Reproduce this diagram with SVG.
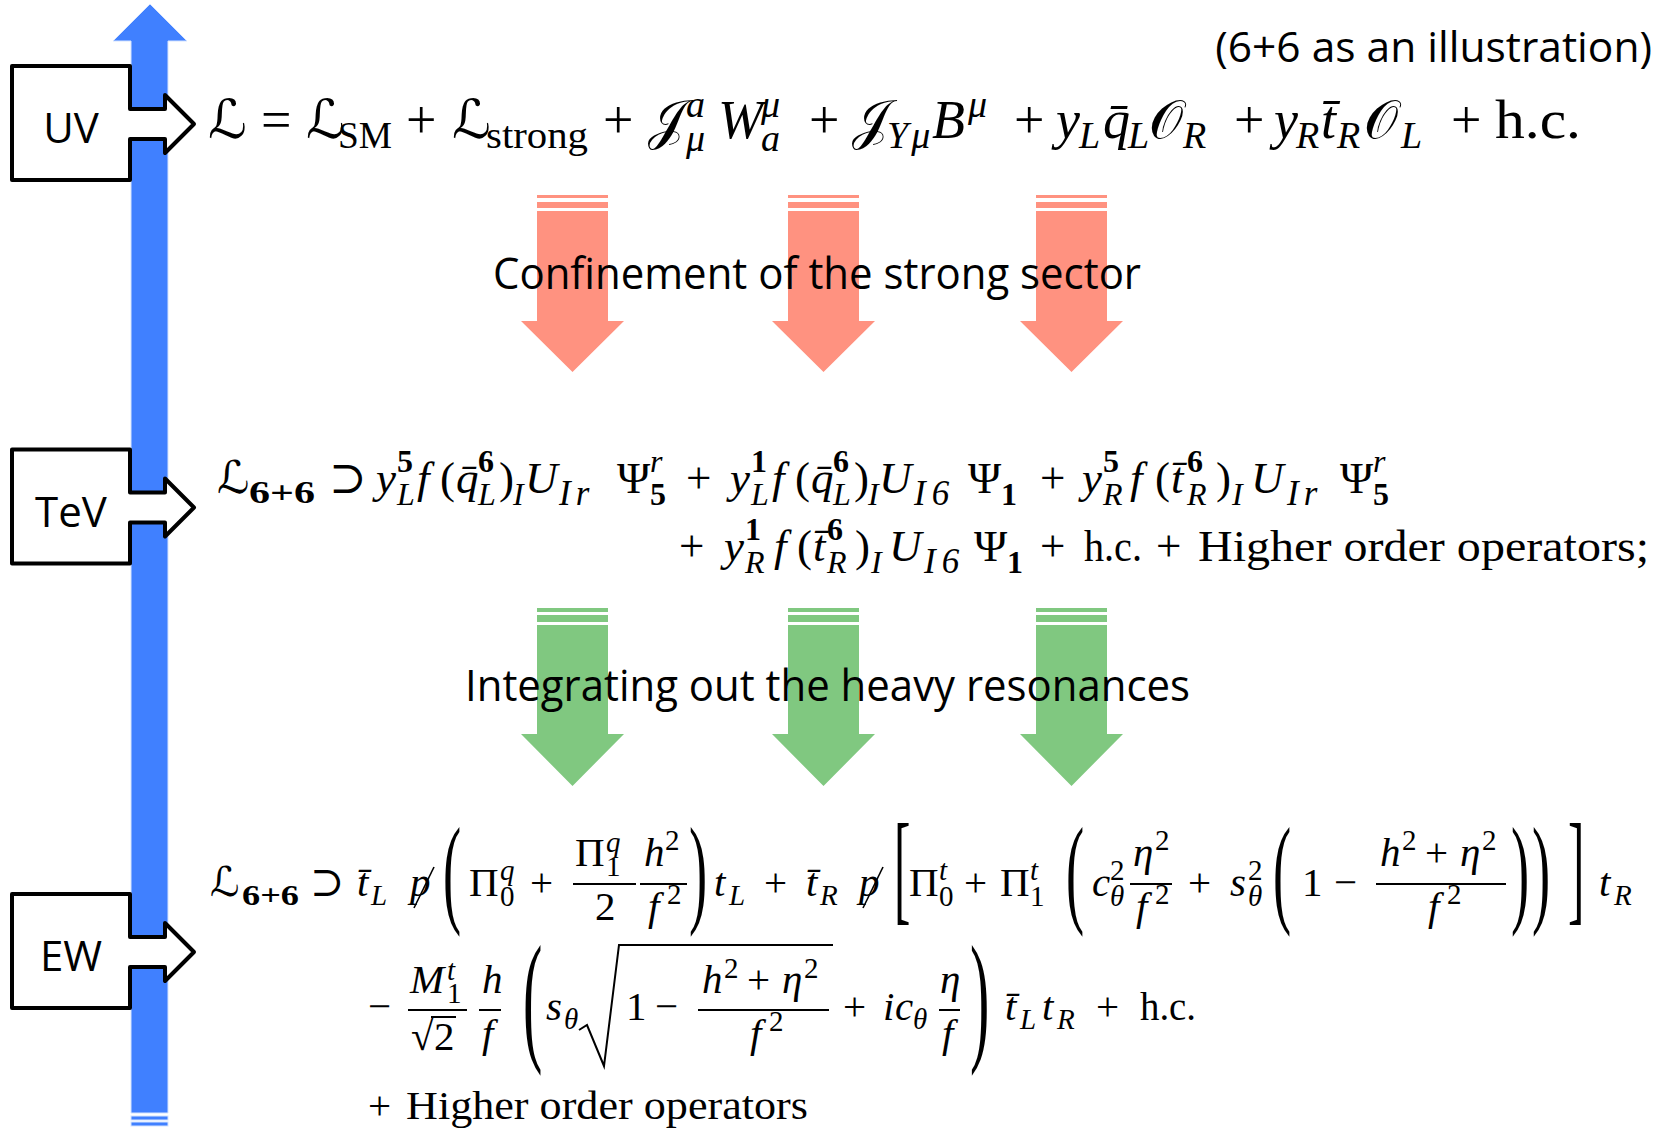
<svg xmlns="http://www.w3.org/2000/svg" width="1663" height="1130" viewBox="0 0 1663 1130">
<style>
.m{font-family:"Liberation Serif","DejaVu Serif",serif;font-style:italic}
.u{font-family:"Liberation Serif","DejaVu Serif",serif}
.b{font-family:"Liberation Serif","DejaVu Serif",serif;font-weight:bold}
.c{font-family:"DejaVu Serif","DejaVu Sans",serif}
.s{font-family:"Open Sans","Noto Sans",sans-serif}
.box{fill:#fff;stroke:#000;stroke-width:4;stroke-linejoin:round}
.blue{fill:#4080ff;stroke:#d4e3ff;stroke-width:1}
.red{fill:#ff9280}
.grn{fill:#80c880}
.ln{stroke:#000;stroke-width:2;fill:none}
.sl{stroke:#000;stroke-width:1.6;fill:none}
</style>
<defs>
<path id="boxshape" d="M12,66 H130 V109 H165 V95 L194,124 L165,153 V139 H130 V180 H12 Z"/>
</defs>
<g id="scale-axis">
<path class="blue" d="M131,1113 V41 H113 L150,4 L187,41 H168 V1113 Z"/>
<rect class="blue" x="131" y="1116" width="37" height="4"/>
<rect class="blue" x="131" y="1122" width="37" height="4"/>
</g>
<g id="connectors">
<g id="confine-arrows" class="red">
<rect x="537" y="195" width="71" height="3"/><rect x="537" y="202" width="71" height="6"/>
<path d="M537,211 H608 V321 H624 L572.5,372 L521,321 H537 Z"/>
<rect x="788" y="195" width="71" height="3"/><rect x="788" y="202" width="71" height="6"/>
<path d="M788,211 H859 V321 H875 L823.5,372 L772,321 H788 Z"/>
<rect x="1036" y="195" width="71" height="3"/><rect x="1036" y="202" width="71" height="6"/>
<path d="M1036,211 H1107 V321 H1123 L1071.5,372 L1020,321 H1036 Z"/>
</g>
<g id="integrate-arrows" class="grn">
<rect x="537" y="608" width="71" height="4"/><rect x="537" y="615" width="71" height="7"/>
<path d="M537,625 H608 V734 H624 L572.5,786 L521,734 H537 Z"/>
<rect x="788" y="608" width="71" height="4"/><rect x="788" y="615" width="71" height="7"/>
<path d="M788,625 H859 V734 H875 L823.5,786 L772,734 H788 Z"/>
<rect x="1036" y="608" width="71" height="4"/><rect x="1036" y="615" width="71" height="7"/>
<path d="M1036,625 H1107 V734 H1123 L1071.5,786 L1020,734 H1036 Z"/>
</g>
</g>
<g id="uv">
<use href="#boxshape" class="box"/>
<text class="s" x="71" y="143" font-size="42" text-anchor="middle">UV</text>
</g>
<g id="tev" transform="translate(0,383.5)">
<use href="#boxshape" class="box"/>
<text class="s" x="71" y="143" font-size="42" text-anchor="middle">TeV</text>
</g>
<g id="ew" transform="translate(0,828)">
<use href="#boxshape" class="box"/>
<text class="s" x="71" y="143" font-size="42" text-anchor="middle">EW</text>
</g>
<text id="note" class="s" x="1652" y="62" font-size="42.5" text-anchor="end">(6+6 as an illustration)</text>
<text id="confine-label" class="s" x="493" y="289" font-size="44" textLength="648" lengthAdjust="spacingAndGlyphs">Confinement of the strong sector</text>
<text id="integrate-label" class="s" x="465" y="701" font-size="44" textLength="725" lengthAdjust="spacingAndGlyphs">Integrating out the heavy resonances</text>

<g id="eq-uv" font-size="54">
<text class="c" x="208" y="138">ℒ</text>
<text class="u" x="261" y="138">=</text>
<text class="c" x="306" y="138">ℒ</text>
<text class="u" x="338" y="148" font-size="38" textLength="54" lengthAdjust="spacingAndGlyphs">SM</text>
<text class="u" x="406" y="138">+</text>
<text class="c" x="452" y="138">ℒ</text>
<text class="u" x="486" y="148" font-size="38" textLength="102" lengthAdjust="spacingAndGlyphs">strong</text>
<text class="u" x="603" y="138">+</text>
<text class="c" x="648" y="138">𝒥</text>
<text class="m" x="686" y="117" font-size="38">a</text>
<text class="m" x="686" y="151" font-size="38">μ</text>
<text class="m" x="718" y="138">W</text>
<text class="m" x="761" y="117" font-size="38">μ</text>
<text class="m" x="761" y="151" font-size="38">a</text>
<text class="u" x="809" y="138">+</text>
<text class="c" x="852" y="138">𝒥</text>
<text class="m" x="887" y="148" font-size="38" letter-spacing="3">Yμ</text>
<text class="m" x="932" y="138">B</text>
<text class="m" x="968" y="117" font-size="38">μ</text>
<text class="u" x="1014" y="138">+</text>
<text class="m" x="1056" y="138">y</text>
<text class="m" x="1079" y="148" font-size="38">L</text>
<text class="m" x="1103" y="138">q̄</text>
<text class="m" x="1128" y="148" font-size="38">L</text>
<text class="c" x="1149" y="138">𝒪</text>
<text class="m" x="1183" y="148" font-size="38">R</text>
<text class="u" x="1234" y="138">+</text>
<text class="m" x="1274" y="138">y</text>
<text class="m" x="1296" y="148" font-size="38">R</text>
<text class="m" x="1321" y="138">t̄</text>
<text class="m" x="1337" y="148" font-size="38">R</text>
<text class="c" x="1364" y="138">𝒪</text>
<text class="m" x="1401" y="148" font-size="38">L</text>
<text class="u" x="1451" y="138">+</text>
<text class="u" x="1495" y="138" textLength="86" lengthAdjust="spacingAndGlyphs">h.c.</text>
</g>

<g id="eq-tev" font-size="45">
<text class="c" x="217" y="493">ℒ</text>
<text class="b" x="249" y="503" font-size="32" textLength="66" lengthAdjust="spacingAndGlyphs">6+6</text>
<text class="u" x="329" y="493">⊃</text>
<text class="m" x="376" y="493">y</text>
<text class="b" x="397" y="472" font-size="32">5</text>
<text class="m" x="397" y="505" font-size="32">L</text>
<text class="m" x="417" y="493">f</text>
<text class="u" x="440" y="493">(</text>
<text class="m" x="456" y="493">q̄</text>
<text class="b" x="478" y="472" font-size="32">6</text>
<text class="m" x="478" y="505" font-size="32">L</text>
<text class="u" x="499" y="493">)</text>
<text class="m" x="513" y="505" font-size="32">I</text>
<text class="m" x="525" y="493">U</text>
<text class="m" x="559" y="505" font-size="35" letter-spacing="5">Ir</text>
<text class="u" x="617" y="493">Ψ</text>
<text class="m" x="650" y="472" font-size="32">r</text>
<text class="b" x="650" y="505" font-size="32">5</text>
<text class="u" x="686" y="493">+</text>
<text class="m" x="730" y="493">y</text>
<text class="b" x="751" y="472" font-size="32">1</text>
<text class="m" x="751" y="505" font-size="32">L</text>
<text class="m" x="772" y="493">f</text>
<text class="u" x="795" y="493">(</text>
<text class="m" x="811" y="493">q̄</text>
<text class="b" x="833" y="472" font-size="32">6</text>
<text class="m" x="833" y="505" font-size="32">L</text>
<text class="u" x="854" y="493">)</text>
<text class="m" x="868" y="505" font-size="32">I</text>
<text class="m" x="879" y="493">U</text>
<text class="m" x="914" y="505" font-size="35" letter-spacing="6">I6</text>
<text class="u" x="968" y="493">Ψ</text>
<text class="b" x="1001" y="505" font-size="32">1</text>
<text class="u" x="1040" y="493">+</text>
<text class="m" x="1082" y="493">y</text>
<text class="b" x="1103" y="472" font-size="32">5</text>
<text class="m" x="1103" y="505" font-size="32">R</text>
<text class="m" x="1130" y="493">f</text>
<text class="u" x="1155" y="493">(</text>
<text class="m" x="1171" y="493">t̄</text>
<text class="b" x="1187" y="472" font-size="32">6</text>
<text class="m" x="1187" y="505" font-size="32">R</text>
<text class="u" x="1216" y="493">)</text>
<text class="m" x="1232" y="505" font-size="32">I</text>
<text class="m" x="1251" y="493">U</text>
<text class="m" x="1287" y="505" font-size="35" letter-spacing="5">Ir</text>
<text class="u" x="1340" y="493">Ψ</text>
<text class="m" x="1373" y="472" font-size="32">r</text>
<text class="b" x="1373" y="505" font-size="32">5</text>

<text class="u" x="679" y="561">+</text>
<text class="m" x="724" y="561">y</text>
<text class="b" x="745" y="540" font-size="32">1</text>
<text class="m" x="745" y="573" font-size="32">R</text>
<text class="m" x="774" y="561">f</text>
<text class="u" x="797" y="561">(</text>
<text class="m" x="813" y="561">t̄</text>
<text class="b" x="827" y="540" font-size="32">6</text>
<text class="m" x="827" y="573" font-size="32">R</text>
<text class="u" x="855" y="561">)</text>
<text class="m" x="871" y="573" font-size="32">I</text>
<text class="m" x="889" y="561">U</text>
<text class="m" x="924" y="573" font-size="35" letter-spacing="6">I6</text>
<text class="u" x="974" y="561">Ψ</text>
<text class="b" x="1007" y="573" font-size="32">1</text>
<text class="u" x="1040" y="561">+</text>
<text class="u" x="1084" y="561" textLength="58" lengthAdjust="spacingAndGlyphs">h.c.</text>
<text class="u" x="1156" y="561">+</text>
<text class="u" x="1198" y="561" textLength="451" lengthAdjust="spacingAndGlyphs">Higher order operators;</text>
</g>

<g id="eq-ew" font-size="41">
<text class="c" x="210" y="896">ℒ</text>
<text class="b" x="242" y="905" font-size="29" textLength="57" lengthAdjust="spacingAndGlyphs">6+6</text>
<text class="u" x="310" y="896">⊃</text>
<text class="m" x="357" y="896">t̄</text>
<text class="m" x="371" y="905" font-size="29">L</text>
<text class="m" x="410" y="896">p</text>
<path class="sl" d="M434,867 L414,908"/>
<text class="u" transform="translate(443,911) scale(0.45,1)" font-size="121">(</text>
<text class="u" x="469" y="896">Π</text>
<text class="m" x="500" y="880" font-size="29">q</text>
<text class="u" x="500" y="906" font-size="29">0</text>
<text class="u" x="530" y="896">+</text>
<text class="u" x="575" y="866">Π</text>
<text class="m" x="606" y="852" font-size="29">q</text>
<text class="u" x="606" y="876" font-size="29">1</text>
<path class="ln" d="M573,884 H636"/>
<text class="u" x="595" y="920">2</text>
<text class="m" x="644" y="866">h</text>
<text class="u" x="665" y="850" font-size="29">2</text>
<path class="ln" d="M640,884 H687"/>
<text class="m" x="648" y="920">f</text>
<text class="u" x="667" y="904" font-size="29">2</text>
<text class="u" transform="translate(689,911) scale(0.45,1)" font-size="121">)</text>
<text class="m" x="714" y="896">t</text>
<text class="m" x="729" y="905" font-size="29">L</text>
<text class="u" x="764" y="896">+</text>
<text class="m" x="806" y="896">t̄</text>
<text class="m" x="820" y="905" font-size="29">R</text>
<text class="m" x="859" y="896">p</text>
<path class="sl" d="M883,867 L863,908"/>
<text class="u" transform="translate(894,909) scale(0.4,1)" font-size="123">[</text>
<text class="u" x="909" y="896">Π</text>
<text class="m" x="939" y="880" font-size="29">t</text>
<text class="u" x="939" y="906" font-size="29">0</text>
<text class="u" x="964" y="896">+</text>
<text class="u" x="1000" y="896">Π</text>
<text class="m" x="1030" y="880" font-size="29">t</text>
<text class="u" x="1030" y="906" font-size="29">1</text>
<text class="u" transform="translate(1066,911) scale(0.45,1)" font-size="121">(</text>
<text class="m" x="1092" y="896">c</text>
<text class="u" x="1110" y="880" font-size="29">2</text>
<text class="m" x="1110" y="906" font-size="29">θ</text>
<text class="m" x="1133" y="866">η</text>
<text class="u" x="1155" y="850" font-size="29">2</text>
<path class="ln" d="M1130,884 H1172"/>
<text class="m" x="1136" y="920">f</text>
<text class="u" x="1155" y="904" font-size="29">2</text>
<text class="u" x="1188" y="896">+</text>
<text class="m" x="1230" y="896">s</text>
<text class="u" x="1248" y="880" font-size="29">2</text>
<text class="m" x="1248" y="906" font-size="29">θ</text>
<text class="u" transform="translate(1273,911) scale(0.45,1)" font-size="121">(</text>
<text class="u" x="1302" y="896">1</text>
<text class="u" x="1334" y="896">−</text>
<text class="m" x="1380" y="866">h</text>
<text class="u" x="1402" y="850" font-size="29">2</text>
<text class="u" x="1425" y="866">+</text>
<text class="m" x="1460" y="866">η</text>
<text class="u" x="1482" y="850" font-size="29">2</text>
<path class="ln" d="M1376,884 H1506"/>
<text class="m" x="1428" y="920">f</text>
<text class="u" x="1447" y="904" font-size="29">2</text>
<text class="u" transform="translate(1511,911) scale(0.45,1)" font-size="121">)</text>
<text class="u" transform="translate(1532,911) scale(0.45,1)" font-size="121">)</text>
<text class="u" transform="translate(1568,909) scale(0.4,1)" font-size="123">]</text>
<text class="m" x="1599" y="896">t</text>
<text class="m" x="1614" y="905" font-size="29">R</text>

<text class="u" x="368" y="1020">−</text>
<text class="m" x="410" y="993">M</text>
<text class="m" x="447" y="980" font-size="29">t</text>
<text class="u" x="447" y="1003" font-size="29">1</text>
<path class="ln" d="M408,1010 H467"/>
<text class="u" x="411" y="1050">√</text>
<path class="ln" d="M431,1017 H456"/>
<text class="u" x="434" y="1050">2</text>
<text class="m" x="482" y="993">h</text>
<path class="ln" d="M479,1010 H501"/>
<text class="m" x="482" y="1047">f</text>
<text class="u" transform="translate(523,1045) scale(0.4,1)" font-size="145">(</text>
<text class="m" x="546" y="1020">s</text>
<text class="m" x="564" y="1029" font-size="29">θ</text>
<path class="ln" d="M579,1030 L587,1025 L604,1066 L619,945 H833"/>
<text class="u" x="626" y="1020">1</text>
<text class="u" x="655" y="1020">−</text>
<text class="m" x="702" y="993">h</text>
<text class="u" x="724" y="978" font-size="29">2</text>
<text class="u" x="747" y="993">+</text>
<text class="m" x="782" y="993">η</text>
<text class="u" x="804" y="978" font-size="29">2</text>
<path class="ln" d="M698,1010 H829"/>
<text class="m" x="750" y="1047">f</text>
<text class="u" x="769" y="1031" font-size="29">2</text>
<text class="u" x="843" y="1020">+</text>
<text class="m" x="883" y="1020">i</text>
<text class="m" x="895" y="1020">c</text>
<text class="m" x="913" y="1029" font-size="29">θ</text>
<text class="m" x="940" y="993">η</text>
<path class="ln" d="M939,1010 H960"/>
<text class="m" x="942" y="1047">f</text>
<text class="u" transform="translate(970,1045) scale(0.4,1)" font-size="145">)</text>
<text class="m" x="1005" y="1020">t̄</text>
<text class="m" x="1020" y="1029" font-size="29">L</text>
<text class="m" x="1042" y="1020">t</text>
<text class="m" x="1057" y="1029" font-size="29">R</text>
<text class="u" x="1096" y="1020">+</text>
<text class="u" x="1140" y="1020" textLength="56" lengthAdjust="spacingAndGlyphs">h.c.</text>

<text class="u" x="368" y="1119">+</text>
<text class="u" x="406" y="1119" textLength="402" lengthAdjust="spacingAndGlyphs">Higher order operators</text>
</g>
</svg>
